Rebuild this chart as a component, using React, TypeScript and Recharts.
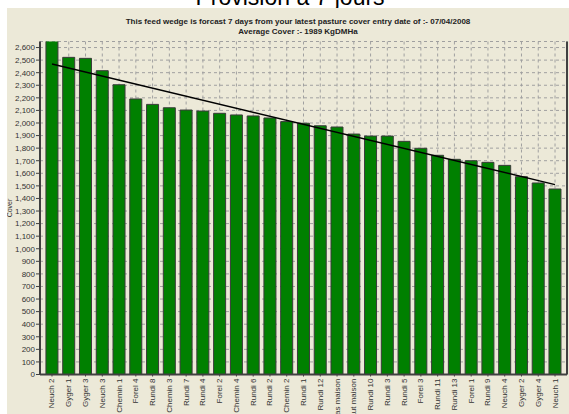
import React from 'react';
import { ComposedChart, Bar, Line, XAxis, YAxis, CartesianGrid } from 'recharts';

const categories: string[] = [
  'Neuch 2', 'Gyger 1', 'Gyger 3', 'Neuch 3', 'Chemin 1', 'Forel 4', 'Rundi 8', 'Chemin 3',
  'Rundi 7', 'Rundi 4', 'Forel 2', 'Chemin 4', 'Rundi 6', 'Rundi 2', 'Chemin 2', 'Rundi 1',
  'Rundi 12', 'bas maison', 'haut maison', 'Rundi 10', 'Rundi 3', 'Rundi 5', 'Forel 3',
  'Rundi 11', 'Rundi 13', 'Forel 1', 'Rundi 9', 'Neuch 4', 'Gyger 2', 'Gyger 4', 'Neuch 1',
];

const coverValues: number[] = [
  2680, 2522, 2514, 2416, 2304, 2191, 2148, 2121, 2103, 2095, 2077, 2064, 2056, 2040, 2011, 1998,
  1978, 1968, 1912, 1896, 1896, 1854, 1799, 1743, 1711, 1700, 1687, 1663, 1573, 1523, 1475,
];

const trendStart = 2469;
const trendEnd = 1510;

const yTicks: number[] = [
  0, 100, 200, 300, 400, 500, 600, 700, 800, 900, 1000, 1100, 1200, 1300, 1400, 1500, 1600,
  1700, 1800, 1900, 2000, 2100, 2200, 2300, 2400, 2500, 2600,
];

const yMax = 2648;

const titleText = 'Provision à 7 jours';
const subtitle1 = 'This feed wedge is forcast 7 days from your latest pasture cover entry date of :- 07/04/2008';
const subtitle2 = 'Average Cover :-  1989 KgDMHa';
const yLabel = 'Cover';

const data = categories.map((name, i) => ({
  name,
  cover: coverValues[i],
  trend: i === 0 ? trendStart : i === categories.length - 1 ? trendEnd : null,
}));

const FONT = '"Liberation Sans", Arial, sans-serif';
const AXIS = '#404040';

const XTick = (props: any) => {
  const { x, y, payload } = props;
  return (
    <text
      x={x}
      y={y}
      transform={`rotate(-90 ${x} ${y})`}
      textAnchor="end"
      dominantBaseline="central"
      fontSize={8}
      fontFamily={FONT}
      fill="#333"
    >
      {payload.value}
    </text>
  );
};

const CoverLabel = (props: any) => {
  const vb = props.viewBox || {};
  const cx = (vb.x || 0) + 2.5;
  const cy = (vb.y || 0) + (vb.height || 0) / 2;
  return (
    <text
      x={cx}
      y={cy}
      transform={`rotate(-90 ${cx} ${cy})`}
      textAnchor="middle"
      dominantBaseline="central"
      fontSize={7}
      fontFamily={FONT}
      fill="#333"
    >
      {yLabel}
    </text>
  );
};

export default function App() {
  return (
    <div
      style={{
        position: 'absolute',
        left: 0,
        top: 0,
        width: 569,
        height: 414,
        overflow: 'hidden',
        background: '#ffffff',
        fontFamily: FONT,
      }}
    >
      <div
        style={{
          position: 'absolute',
          left: 195,
          width: 190,
          top: -14,
          lineHeight: '23px',
          fontSize: 23,
          textAlign: 'center',
          whiteSpace: 'nowrap',
          color: '#000',
        }}
      >
        {titleText}
      </div>
      <div
        style={{
          position: 'absolute',
          left: 7,
          top: 8,
          width: 562,
          height: 406,
          background: '#ECE9D8',
        }}
      >
        <div
          style={{
            position: 'absolute',
            left: 0,
            width: 582,
            top: 9,
            fontSize: 8,
            lineHeight: '10px',
            fontWeight: 'bold',
            textAlign: 'center',
            whiteSpace: 'nowrap',
            color: '#222',
          }}
        >
          <div>{subtitle1}</div>
          <div>{subtitle2}</div>
        </div>
        <ComposedChart
          width={562}
          height={406}
          data={data}
          margin={{ top: 33.5, right: 0, bottom: 0, left: 0 }}
          barCategoryGap="14%"
          style={{ position: 'absolute', left: 0, top: 0 }}
        >
          <CartesianGrid stroke="#a0a0a0" strokeDasharray="3 3" />
          <XAxis
            dataKey="name"
            interval={0}
            height={39.5}
            padding={{ left: 3.6, right: 3.6 }}
            tick={<XTick />}
            tickSize={2}
            tickMargin={2}
            tickLine={{ stroke: AXIS }}
            axisLine={{ stroke: AXIS, strokeWidth: 2 }}
          />
          <XAxis
            xAxisId="top"
            orientation="top"
            dataKey="name"
            height={0}
            tick={false}
            tickLine={false}
            axisLine={{ stroke: AXIS, strokeWidth: 2 }}
          />
          <YAxis
            width={33}
            domain={[0, yMax]}
            ticks={yTicks}
            allowDataOverflow
            interval={0}
            tickFormatter={(v: number) => v.toLocaleString('en-US')}
            tick={{ fontSize: 8, fontFamily: FONT, fill: '#333' }}
            tickSize={4}
            tickMargin={1}
            tickLine={{ stroke: AXIS }}
            axisLine={{ stroke: AXIS, strokeWidth: 2 }}
            label={<CoverLabel />}
          />
          <YAxis
            yAxisId="right"
            orientation="right"
            width={2}
            domain={[0, yMax]}
            tick={false}
            tickLine={false}
            axisLine={{ stroke: AXIS, strokeWidth: 2 }}
          />
          <Bar
            dataKey="cover"
            fill="#008000"
            stroke="#3a3a3a"
            strokeWidth={1}
            isAnimationActive={false}
          />
          <Line
            dataKey="trend"
            type="linear"
            stroke="#000"
            strokeWidth={1.5}
            dot={false}
            connectNulls
            isAnimationActive={false}
          />
        </ComposedChart>
      </div>
    </div>
  );
}
